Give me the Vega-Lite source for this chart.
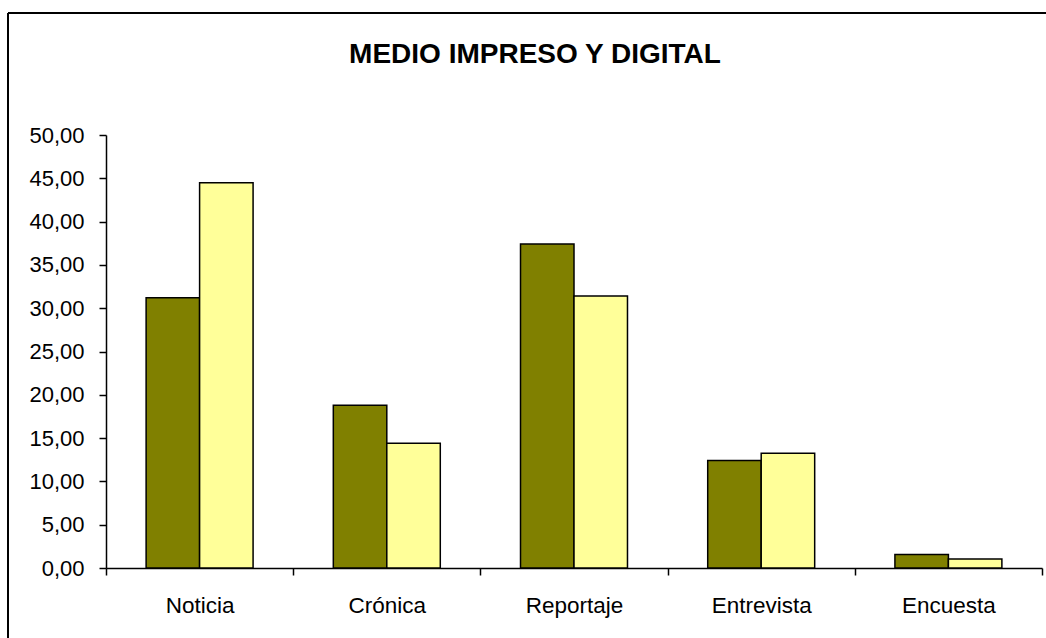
{
  "$schema": "https://vega.github.io/schema/vega-lite/v6.json",
  "autosize": {"type": "none"},
  "padding": {"left": 8, "top": 13, "right": 0, "bottom": 0},
  "width": 1038,
  "height": 625,
  "background": "white",
  "title": {
    "text": "MEDIO IMPRESO Y DIGITAL",
    "font": "Liberation Sans",
    "fontSize": 28,
    "fontWeight": "bold",
    "color": "black",
    "anchor": "middle",
    "frame": "group",
    "baseline": "alphabetic",
    "offset": -78,
    "dx": 8
  },
  "data": {
    "values": [
      {"genero": "Noticia", "medio": "Impreso", "valor": 31.2},
      {"genero": "Noticia", "medio": "Digital", "valor": 44.5},
      {"genero": "Crónica", "medio": "Impreso", "valor": 18.8},
      {"genero": "Crónica", "medio": "Digital", "valor": 14.4},
      {"genero": "Reportaje", "medio": "Impreso", "valor": 37.4},
      {"genero": "Reportaje", "medio": "Digital", "valor": 31.4},
      {"genero": "Entrevista", "medio": "Impreso", "valor": 12.4},
      {"genero": "Entrevista", "medio": "Digital", "valor": 13.25},
      {"genero": "Encuesta", "medio": "Impreso", "valor": 1.55},
      {"genero": "Encuesta", "medio": "Digital", "valor": 1.04}
    ]
  },
  "mark": {"type": "bar", "stroke": "black", "strokeWidth": 1.5},
  "encoding": {
    "x": {
      "field": "genero",
      "type": "nominal",
      "sort": ["Noticia", "Crónica", "Reportaje", "Entrevista", "Encuesta"],
      "scale": {"range": [98, 1034], "paddingInner": 0, "paddingOuter": 0},
      "axis": {
        "title": null,
        "offset": -70,
        "tickBand": "extent",
        "tickSize": 7,
        "tickColor": "black",
        "tickWidth": 1.5,
        "domainColor": "black",
        "domainWidth": 1.5,
        "labelAngle": 0,
        "labelFont": "Liberation Sans",
        "labelFontSize": 22.5,
        "labelColor": "black",
        "labelPadding": 19,
        "grid": false
      }
    },
    "xOffset": {
      "field": "medio",
      "type": "nominal",
      "sort": ["Impreso", "Digital"],
      "scale": {"paddingInner": 0, "paddingOuter": 0.75}
    },
    "y": {
      "field": "valor",
      "type": "quantitative",
      "scale": {"domain": [0, 50], "range": [555, 122], "nice": false},
      "axis": {
        "title": null,
        "offset": -98,
        "values": [0, 5, 10, 15, 20, 25, 30, 35, 40, 45, 50],
        "labelExpr": "replace(format(datum.value, '.2f'), '.', ',')",
        "tickSize": 7,
        "tickColor": "black",
        "tickWidth": 1.5,
        "domainColor": "black",
        "domainWidth": 1.5,
        "labelFont": "Liberation Sans",
        "labelFontSize": 22,
        "labelColor": "black",
        "labelPadding": 15,
        "grid": false
      }
    },
    "color": {
      "field": "medio",
      "type": "nominal",
      "scale": {"domain": ["Impreso", "Digital"], "range": ["#808000", "#FFFF99"]},
      "legend": null
    }
  },
  "config": {
    "view": {"stroke": "black", "strokeWidth": 2, "strokeDash": [1038, 1663, 625, 0]}
  }
}
